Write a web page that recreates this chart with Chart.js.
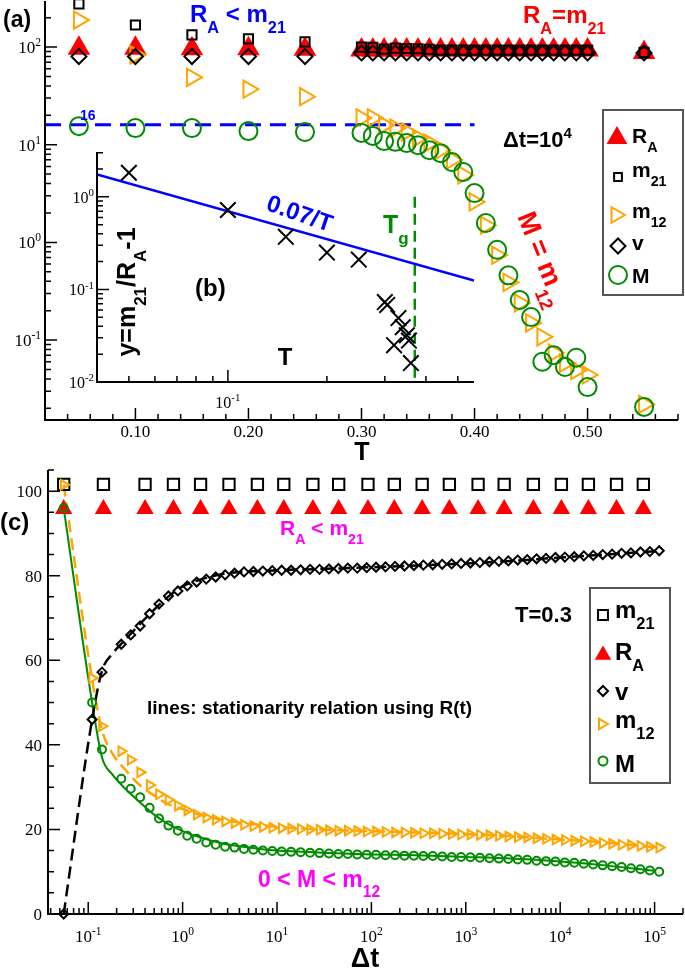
<!DOCTYPE html>
<html>
<head>
<meta charset="utf-8">
<script src="https://cdn.jsdelivr.net/npm/chart.js@4.4.0/dist/chart.umd.min.js"></script>
<style>
  html, body { margin: 0; padding: 0; background: #fff; }
  #wrap { position: relative; width: 685px; height: 968px; overflow: hidden; }
  canvas { position: absolute; }
  #cA { left: 0; top: 0; }
  #cC { left: 0; top: 450px; }
  #cB { left: 50px; top: 140px; }
</style>
</head>
<body>
<div id="wrap">
  <canvas id="cA" width="685" height="470"></canvas>
  <canvas id="cC" width="685" height="518"></canvas>
  <canvas id="cB" width="440" height="275"></canvas>
</div>
<script>
// ---- panel (a): quantities vs temperature at dt = 10^4 ----
const tempA = [0.05, 0.10, 0.15, 0.20, 0.25, 0.30, 0.31, 0.32, 0.33, 0.34, 0.35, 0.36, 0.37, 0.38, 0.39, 0.40, 0.41, 0.42, 0.43, 0.44, 0.45, 0.46, 0.47, 0.48, 0.49, 0.50, 0.55];
const raA  = [97, 97, 96, 96, 95, 93, 93, 93, 93, 93, 93, 93, 93, 93, 93, 93, 93, 93, 93, 93, 93, 93, 93, 93, 93, 93, 88];
const m21A = [276, 168, 133, 121, 113, 99.8, 99.3, 95.3, 97.6, 96.6, 96, 94.5, 93, 93, 93, 93, 93, 93, 93, 93, 93, 93, 93, 93, 93, 93, 88];
const vA   = [80, 80, 80, 80, 80, 87, 87, 87, 87, 87, 87, 87, 87, 87, 87, 87, 87, 87, 87, 87, 87, 87, 87, 87, 87, 87, 87];
const m12A = [189, 83, 49, 37, 31, 18.8, 18.8, 15.9, 14.8, 13.5, 11.7, 10.4, 8.8, 7.0, 4.9, 2.6, 1.5, 0.74, 0.39, 0.24, 0.15, 0.108, 0.074, 0.058, 0.049, 0.044, 0.022];
const mA   = [15.5, 14.8, 14.8, 13.8, 13.5, 13.2, 12.3, 10.9, 10.7, 10.4, 9.9, 8.8, 8.2, 6.65, 5.26, 3.2, 1.58, 0.84, 0.46, 0.257, 0.172, 0.060, 0.070, 0.053, 0.066, 0.033, 0.0207];
const plateauT = [0.02, 0.40];
const plateauY = [16, 16];

// ---- inset (b): y = m21/RA - 1 ----
const tempB  = [0.05, 0.10, 0.15, 0.20, 0.25, 0.30, 0.305, 0.32, 0.33, 0.34, 0.35, 0.355, 0.36];
const ratioB = [1.82, 0.72, 0.37, 0.25, 0.21, 0.073, 0.068, 0.025, 0.049, 0.039, 0.032, 0.028, 0.016];
const fitT = [0.04, 0.56];
const fitY = [1.75, 0.125];   // 0.07/T
const tgT = [0.37, 0.37];
const tgY = [1, 0.01];

// ---- panel (c): quantities vs dt at T = 0.3 ----
const dtSparse = [0.055, 0.145, 0.4, 0.8, 1.55, 3.1, 6.2, 11.8, 24, 45, 92, 175, 345, 670, 1350, 2550, 5200, 10300, 19900, 39500, 76000];
const m21C = [101.6, 101.6, 101.6, 101.6, 101.6, 101.6, 101.6, 101.6, 101.6, 101.6, 101.6, 101.6, 101.6, 101.6, 101.6, 101.6, 101.6, 101.6, 101.6, 101.6, 101.6];
const raC  = [95.8, 95.8, 95.8, 95.8, 95.8, 95.8, 95.8, 95.8, 95.8, 95.8, 95.8, 95.8, 95.8, 95.8, 95.8, 95.8, 95.8, 95.8, 95.8, 95.8, 95.8];
const dtDense = [0.055, 0.11, 0.14, 0.224, 0.282, 0.355, 0.447, 0.562, 0.708, 0.891, 1.12, 1.41, 1.78, 2.24, 2.82, 3.55, 4.47, 5.62, 7.08, 8.91,
  11.2, 14.1, 17.8, 22.4, 28.2, 35.5, 44.7, 56.2, 70.8, 89.1, 112, 141, 178, 224, 282, 355, 447, 562, 708, 891,
  1120, 1410, 1780, 2240, 2820, 3550, 4470, 5620, 7080, 8910, 11200, 14100, 17800, 22400, 28200, 35500, 44700, 56200, 70800, 89100, 112000];
const vC = [0, 46, 57.2, 63.8, 66, 68.1, 71, 73.3, 75.2, 76.4, 77.6, 78.5, 79.2, 79.7, 80.2, 80.6, 80.9, 81.0, 81.1, 81.2,
  81.3, 81.3, 81.4, 81.5, 81.5, 81.6, 81.7, 81.8, 81.8, 81.9, 82.0, 82.1, 82.2, 82.3, 82.4, 82.5, 82.6, 82.7, 82.8, 82.9,
  83.0, 83.1, 83.3, 83.4, 83.5, 83.7, 83.8, 84.0, 84.1, 84.3, 84.4, 84.5, 84.7, 84.8, 85.0, 85.1, 85.3, 85.4, 85.6, 85.7, 85.9];
const m12C = [101.5, 55.8, 44.4, 38.5, 36.5, 33.5, 30.5, 28.3, 27, 25.6, 24.5, 23.5, 22.8, 22.3, 21.9, 21.5, 21.1, 20.8, 20.6, 20.4,
  20.3, 20.2, 20.1, 20.0, 19.9, 19.8, 19.7, 19.7, 19.6, 19.5, 19.5, 19.4, 19.3, 19.3, 19.2, 19.1, 19.1, 19.0, 18.9, 18.8,
  18.8, 18.7, 18.6, 18.5, 18.3, 18.2, 18.1, 17.9, 17.8, 17.6, 17.5, 17.3, 17.2, 17.0, 16.8, 16.6, 16.4, 16.3, 16.1, 15.9, 15.7];
const mC = [96, 50, 38.9, 32, 29.6, 27.6, 25.1, 22.6, 20.9, 19.7, 18.5, 17.8, 16.9, 16.4, 15.9, 15.7, 15.4, 15.2, 15.0, 14.9,
  14.8, 14.7, 14.6, 14.5, 14.4, 14.3, 14.2, 14.2, 14.1, 14.0, 14.0, 13.9, 13.9, 13.8, 13.8, 13.7, 13.7, 13.6, 13.5, 13.5,
  13.4, 13.3, 13.2, 13.1, 13.0, 12.9, 12.8, 12.6, 12.5, 12.4, 12.2, 12.1, 11.9, 11.7, 11.5, 11.3, 11.1, 10.8, 10.6, 10.3, 10.0];
// stationarity-relation curves
const lineDt  = [0.055, 0.11, 0.14, 0.18, 0.25, 0.35, 0.5, 0.7, 1, 1.5, 2.5, 4, 7, 10, 30, 100, 300, 1000, 3000, 10000, 30000, 100000];
const lineV   = [0, 46, 57.5, 61.5, 65, 68.5, 72, 75, 77.5, 79, 80.3, 80.9, 81.1, 81.3, 81.6, 82.0, 82.4, 82.9, 83.5, 84.3, 85, 85.8];
const lineM12 = [101.5, 55.5, 43.5, 38, 34, 30.5, 28, 26, 24.8, 23.5, 22.4, 21.6, 21, 20.6, 20, 19.6, 19.3, 18.9, 18.4, 17.6, 16.9, 15.8];
const lineM   = [96, 50, 37, 33, 29.5, 26.5, 23.5, 21.3, 19.6, 18.2, 16.8, 16.0, 15.3, 15.0, 14.5, 14.1, 13.9, 13.5, 13.1, 12.4, 11.5, 10.2];

const GREEN = 'rgb(0,139,0)', ORANGE = 'rgb(255,165,0)', RED = 'rgb(255,0,0)';
const BLUE = 'rgb(0,0,255)', MAGENTA = 'rgb(255,0,255)', NONE = 'rgba(0,0,0,0)';
const SANS = '"Liberation Sans", Arial, sans-serif';
const SERIF = '"Liberation Serif", "Times New Roman", serif';

const pts = (xs, ys) => xs.map((x, i) => ({ x: x, y: ys[i] }));

// text with sub/superscripts: parts = [[text, ''|'sub'|'sup'], ...]
function rich(ctx, parts, x, y, size, color, opts) {
  opts = opts || {};
  const weight = opts.weight || 'bold';
  const fam = opts.family || SANS;
  const items = parts.map(p => {
    const k = p[1] || '';
    const s = k ? size * 0.68 : size;
    ctx.font = weight + ' ' + s + 'px ' + fam;
    return { t: p[0], s: s, w: ctx.measureText(p[0]).width,
             dy: k === 'sub' ? size * 0.45 : (k === 'sup' ? -size * 0.42 : 0) };
  });
  const total = items.reduce((a, b) => a + b.w, 0);
  let cx = x;
  if (opts.align === 'center') cx -= total / 2;
  if (opts.align === 'right') cx -= total;
  ctx.fillStyle = color;
  ctx.textAlign = 'left';
  ctx.textBaseline = 'alphabetic';
  items.forEach(it => {
    ctx.font = weight + ' ' + it.s + 'px ' + fam;
    ctx.fillText(it.t, cx, y + it.dy);
    cx += it.w;
  });
  return total;
}

function richRot(ctx, parts, cx, cy, deg, size, color) {
  ctx.save();
  ctx.translate(cx, cy);
  ctx.rotate(deg * Math.PI / 180);
  rich(ctx, parts, 0, size * 0.35, size, color, { align: 'center' });
  ctx.restore();
}

function frame(ctx, a) {
  ctx.save();
  ctx.strokeStyle = '#000';
  ctx.lineWidth = 2;
  ctx.beginPath();
  ctx.moveTo(a.left, a.top);
  ctx.lineTo(a.left, a.bottom);
  ctx.lineTo(a.right, a.bottom);
  ctx.stroke();
  ctx.restore();
}

function ticksX(ctx, scale, a, vals, len) {
  ctx.save();
  ctx.strokeStyle = '#000';
  ctx.lineWidth = 1.5;
  ctx.beginPath();
  vals.forEach(v => {
    const x = scale.getPixelForValue(v);
    ctx.moveTo(x, a.bottom);
    ctx.lineTo(x, a.bottom - len);
  });
  ctx.stroke();
  ctx.restore();
}

function ticksY(ctx, scale, a, vals, len) {
  ctx.save();
  ctx.strokeStyle = '#000';
  ctx.lineWidth = 1.5;
  ctx.beginPath();
  vals.forEach(v => {
    const y = scale.getPixelForValue(v);
    ctx.moveTo(a.left, y);
    ctx.lineTo(a.left + len, y);
  });
  ctx.stroke();
  ctx.restore();
}

function logMinors(lo, hi) {
  const out = [];
  for (let e = -3; e <= 5; e++) {
    for (let m = 2; m <= 9; m++) {
      const v = m * Math.pow(10, e);
      if (v >= lo && v <= hi) out.push(v);
    }
  }
  return out;
}

function marker(ctx, style, rot, r, x, y, stroke, fill) {
  ctx.save();
  ctx.strokeStyle = stroke;
  ctx.fillStyle = fill;
  ctx.lineWidth = 2;
  Chart.helpers.drawPoint(ctx, { pointStyle: style, rotation: rot, radius: r, borderWidth: 2 }, x, y);
  ctx.restore();
}

function legendBox(ctx, x, y, w, h) {
  ctx.save();
  ctx.fillStyle = '#fff';
  ctx.fillRect(x, y, w, h);
  ctx.strokeStyle = '#555';
  ctx.lineWidth = 2;
  ctx.strokeRect(x, y, w, h);
  ctx.restore();
}

const base = {
  responsive: false,
  animation: false,
  events: [],
  plugins: { legend: { display: false }, tooltip: { enabled: false } }
};

function scatterSet(data, style, r, color, fill, extra) {
  return Object.assign({
    data: data, pointStyle: style, pointRadius: r, borderColor: color,
    backgroundColor: fill, pointBorderWidth: 2, borderWidth: 2, clip: false
  }, extra || {});
}

// ---------------- panel (a) ----------------
new Chart(document.getElementById('cA'), {
  type: 'scatter',
  data: {
    datasets: [
      scatterSet(pts(tempA, mA), 'circle', 9, GREEN, NONE),
      scatterSet(pts(tempA, m21A), 'rect', 6.5, '#000', NONE),
      scatterSet(pts(tempA, vA), 'rectRot', 7.5, '#000', NONE),
      scatterSet(pts(tempA, m12A), 'triangle', 10, ORANGE, NONE, { pointRotation: 90 }),
      scatterSet(pts(tempA, raA), 'triangle', 11, RED, RED),
      { data: pts(plateauT, plateauY), showLine: true, pointRadius: 0, borderColor: BLUE,
        borderWidth: 3, borderDash: [16, 9] }
    ]
  },
  options: Object.assign({}, base, {
    layout: { autoPadding: false, padding: { left: 45, top: 1, right: 7, bottom: 50 } },
    scales: {
      x: { type: 'linear', min: 0.02, max: 0.58, display: false },
      y: { type: 'logarithmic', min: 0.0152, max: 296, display: false }
    }
  }),
  plugins: [{
    id: 'decorA',
    afterDraw(chart) {
      const ctx = chart.ctx, a = chart.chartArea;
      const sx = chart.scales.x, sy = chart.scales.y;
      frame(ctx, a);
      const xMaj = [0.1, 0.2, 0.3, 0.4, 0.5];
      const xMin = [];
      for (let k = 2; k <= 29; k++) if (k % 5 !== 0) xMin.push(k * 0.02);
      ticksX(ctx, sx, a, xMaj, 12);
      ticksX(ctx, sx, a, xMin, 6);
      const yMaj = [0.1, 1, 10, 100];
      ticksY(ctx, sy, a, yMaj, 12);
      ticksY(ctx, sy, a, logMinors(0.0152, 296), 6);
      xMaj.forEach(v => rich(ctx, [[v.toFixed(2)]], sx.getPixelForValue(v), 437, 17, '#000',
        { weight: 'normal', family: SERIF, align: 'center' }));
      [['-1', 0.1], ['0', 1], ['1', 10], ['2', 100]].forEach(p => {
        rich(ctx, [['10'], [p[0], 'sup']], 41, sy.getPixelForValue(p[1]) + 6, 17, '#000',
          { weight: 'normal', family: SERIF, align: 'right' });
      });
      rich(ctx, [['T']], 362, 460, 25, '#000', { align: 'center' });

      rich(ctx, [['(a)']], 3, 27, 23, '#000');
      rich(ctx, [['R'], ['A', 'sub'], [' < m'], ['21', 'sub']], 190, 22, 24, BLUE);
      rich(ctx, [['R'], ['A', 'sub'], ['=m'], ['21', 'sub']], 523, 23, 24, RED);
      rich(ctx, [['16']], 80, 120, 14, BLUE);
      rich(ctx, [['\u0394t=10'], ['4', 'sup']], 503, 147, 22, '#000');
      richRot(ctx, [['M = m'], ['12', 'sub']], 544, 258, 68, 27, RED);

      legendBox(ctx, 603, 110, 80, 185);
      marker(ctx, 'triangle', 0, 10, 617, 138, RED, RED);
      rich(ctx, [['R'], ['A', 'sub']], 632, 143, 21, '#000');
      marker(ctx, 'rect', 0, 5.5, 618, 177, '#000', NONE);
      rich(ctx, [['m'], ['21', 'sub']], 632, 177, 21, '#000');
      marker(ctx, 'triangle', 90, 9, 616, 215, ORANGE, NONE);
      rich(ctx, [['m'], ['12', 'sub']], 632, 218, 21, '#000');
      marker(ctx, 'rectRot', 0, 7.5, 618, 246, '#000', NONE);
      rich(ctx, [['v']], 632, 250, 21, '#000');
      marker(ctx, 'circle', 0, 9, 618, 275, GREEN, NONE);
      rich(ctx, [['M']], 632, 283, 21, '#000');
    }
  }]
});

// ---------------- inset (b) ----------------
new Chart(document.getElementById('cB'), {
  type: 'scatter',
  data: {
    datasets: [
      scatterSet(pts(tempB, ratioB), 'crossRot', 11, '#000', NONE),
      { data: pts(fitT, fitY), showLine: true, pointRadius: 0, borderColor: BLUE, borderWidth: 2.5 },
      { data: pts(tgT, tgY), showLine: true, pointRadius: 0, borderColor: GREEN, borderWidth: 2.5, borderDash: [11, 6] }
    ]
  },
  options: Object.assign({}, base, {
    layout: { autoPadding: false, padding: { left: 47, top: 12, right: 16, bottom: 33 } },
    scales: {
      x: { type: 'logarithmic', min: 0.04, max: 0.56, display: false },
      y: { type: 'logarithmic', min: 0.01, max: 3.05, display: false }
    }
  }),
  plugins: [{
    id: 'decorB',
    afterDraw(chart) {
      const ctx = chart.ctx, a = chart.chartArea;
      const sx = chart.scales.x, sy = chart.scales.y;
      frame(ctx, a);
      ticksX(ctx, sx, a, [0.1], 12);
      ticksX(ctx, sx, a, logMinors(0.04, 0.56), 6);
      ticksY(ctx, sy, a, [0.01, 0.1, 1], 12);
      ticksY(ctx, sy, a, logMinors(0.01, 3.05), 6);
      rich(ctx, [['10'], ['-1', 'sup']], sx.getPixelForValue(0.1), 268, 16, '#000',
        { weight: 'normal', family: SERIF, align: 'center' });
      [['-2', 0.01], ['-1', 0.1], ['0', 1]].forEach(p => {
        rich(ctx, [['10'], [p[0], 'sup']], 44, sy.getPixelForValue(p[1]) + 6, 16, '#000',
          { weight: 'normal', family: SERIF, align: 'right' });
      });
      richRot(ctx, [['0.07/T']], 250, 73, 19, 24, BLUE);
      rich(ctx, [['T'], ['g', 'sub']], 333, 93, 25, GREEN);
      rich(ctx, [['(b)']], 145, 156, 24, '#000');
      richRot(ctx, [['y=m'], ['21', 'sub'], ['/R'], ['A', 'sub'], ['-1']], 76, 152, -90, 25, '#000');
      rich(ctx, [['T']], 235, 225, 24, '#000', { align: 'center' });
    }
  }]
});

// ---------------- panel (c) ----------------
new Chart(document.getElementById('cC'), {
  type: 'scatter',
  data: {
    datasets: [
      scatterSet(pts(dtDense, mC), 'circle', 4, GREEN, NONE),
      scatterSet(pts(dtDense, m12C), 'triangle', 5.5, ORANGE, NONE, { pointRotation: 90 }),
      scatterSet(pts(dtDense, vC), 'rectRot', 4.5, '#000', NONE),
      scatterSet(pts(dtSparse, m21C), 'rect', 8, '#000', NONE),
      scatterSet(pts(dtSparse, raC), 'triangle', 8, RED, RED),
      { data: pts(lineDt, lineV), showLine: true, pointRadius: 0, borderColor: '#000', borderWidth: 2.5,
        borderDash: [12, 6], cubicInterpolationMode: 'monotone' },
      { data: pts(lineDt, lineM12), showLine: true, pointRadius: 0, borderColor: ORANGE, borderWidth: 2.5,
        borderDash: [12, 6], cubicInterpolationMode: 'monotone' },
      { data: pts(lineDt, lineM), showLine: true, pointRadius: 0, borderColor: GREEN, borderWidth: 2,
        cubicInterpolationMode: 'monotone' }
    ]
  },
  options: Object.assign({}, base, {
    layout: { autoPadding: false, padding: { left: 48, top: 20, right: 2, bottom: 54 } },
    scales: {
      x: { type: 'logarithmic', min: 0.0375, max: 200000, display: false },
      y: { type: 'linear', min: 0, max: 105, display: false }
    }
  }),
  plugins: [{
    id: 'decorC',
    afterDraw(chart) {
      const ctx = chart.ctx, a = chart.chartArea;
      const sx = chart.scales.x, sy = chart.scales.y;
      frame(ctx, a);
      const xMaj = [0.1, 1, 10, 100, 1000, 10000, 100000];
      ticksX(ctx, sx, a, xMaj, 12);
      ticksX(ctx, sx, a, logMinors(0.0375, 200000), 6);
      const yMaj = [0, 20, 40, 60, 80, 100];
      const yMin = [5, 10, 15, 25, 30, 35, 45, 50, 55, 65, 70, 75, 85, 90, 95, 105];
      ticksY(ctx, sy, a, yMaj, 12);
      ticksY(ctx, sy, a, yMin, 6);
      ['-1', '0', '1', '2', '3', '4', '5'].forEach((e, i) => {
        rich(ctx, [['10'], [e, 'sup']], sx.getPixelForValue(xMaj[i]), 492, 17, '#000',
          { weight: 'normal', family: SERIF, align: 'center' });
      });
      yMaj.forEach(v => rich(ctx, [[String(v)]], 42, sy.getPixelForValue(v) + 6, 17, '#000',
        { weight: 'normal', family: SERIF, align: 'right' }));
      rich(ctx, [['\u0394t']], 365, 517, 27, '#000', { align: 'center' });

      rich(ctx, [['(c)']], 0, 80, 24, '#000');
      rich(ctx, [['R'], ['A', 'sub'], [' < m'], ['21', 'sub']], 280, 85, 21, MAGENTA);
      rich(ctx, [['T=0.3']], 515, 172, 22, '#000');
      rich(ctx, [['lines: stationarity relation using R(t)']], 147, 264, 19, '#000');
      rich(ctx, [['0 < M < m'], ['12', 'sub']], 258, 437, 23, MAGENTA);

      legendBox(ctx, 590, 138, 80, 195);
      marker(ctx, 'rect', 0, 7, 603, 165, '#000', NONE);
      rich(ctx, [['m'], ['21', 'sub']], 615, 168, 24, '#000');
      marker(ctx, 'triangle', 0, 7.5, 603, 205, RED, RED);
      rich(ctx, [['R'], ['A', 'sub']], 615, 210, 24, '#000');
      marker(ctx, 'rectRot', 0, 5, 603, 241, '#000', NONE);
      rich(ctx, [['v']], 615, 250, 24, '#000');
      marker(ctx, 'triangle', 90, 6, 602, 274, ORANGE, NONE);
      rich(ctx, [['m'], ['12', 'sub']], 615, 278, 24, '#000');
      marker(ctx, 'circle', 0, 4.5, 603, 311, GREEN, NONE);
      rich(ctx, [['M']], 615, 322, 24, '#000');
    }
  }]
});
</script>
</body>
</html>
